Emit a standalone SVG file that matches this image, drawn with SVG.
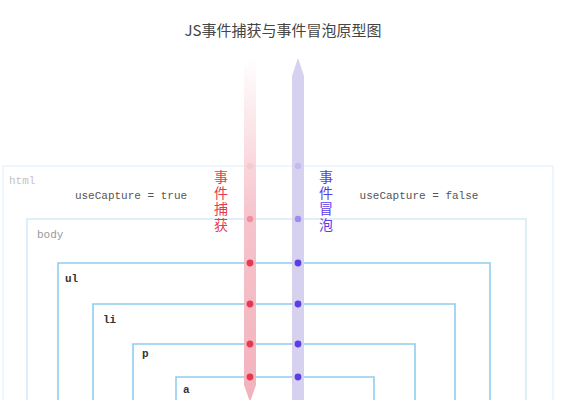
<svg xmlns="http://www.w3.org/2000/svg" width="566" height="400" viewBox="0 0 566 400">
<defs>
<style>
.lbl{font-family:"Liberation Mono","DejaVu Sans Mono",monospace;font-size:11px;fill:#333}
.box{fill:none;stroke:#8fcdf0;stroke-width:1.6}
.cn{font-family:"Noto Sans CJK SC","Noto Sans",sans-serif;font-size:14px;writing-mode:tb;letter-spacing:2px}
.rdot{fill:#e8384f}
.pdot{fill:#5b3ee6}
</style>
<linearGradient id="redg" x1="0" y1="0" x2="0" y2="1">
<stop offset="0" stop-color="#f4b6c0" stop-opacity="0"/>
<stop offset="0.45" stop-color="#f4b6c0" stop-opacity="0.8"/>
<stop offset="1" stop-color="#f2b2bd" stop-opacity="1"/>
</linearGradient>
</defs>
<rect width="566" height="400" fill="#ffffff"/>
<text x="283" y="36" text-anchor="middle" font-family="Noto Sans CJK SC,sans-serif" font-size="15" fill="#444">JS事件捕获与事件冒泡原型图</text>
<g id="html">
<path d="M3 410 V166 H553 V410" fill="none" stroke="#eaf4fb" stroke-width="1.6"/>
<text class="lbl" x="9" y="184" style="fill:#c4c4c4">html</text>
</g>
<g id="body">
<path d="M27 410 V219 H526 V410" fill="none" stroke="#d6ebf8" stroke-width="1.6"/>
<text class="lbl" x="37" y="238" style="fill:#999">body</text>
</g>
<g id="ul">
<path class="box" d="M58 410 V263 H490 V410"/>
<text class="lbl" x="65" y="282" font-weight="bold">ul</text>
</g>
<g id="li">
<path class="box" d="M93 410 V304 H455 V410"/>
<text class="lbl" x="103" y="323" font-weight="bold">li</text>
</g>
<g id="p">
<path class="box" d="M133 410 V344 H415 V410"/>
<text class="lbl" x="142" y="357" font-weight="bold">p</text>
</g>
<g id="a">
<path class="box" d="M176 410 V377 H374 V410"/>
<text class="lbl" x="183" y="393" font-weight="bold" font-size="9">a</text>
</g>
<text class="lbl" x="131" y="199" text-anchor="middle" style="fill:#555">useCapture = true</text>
<text class="lbl" x="419" y="199" text-anchor="middle" style="fill:#555">useCapture = false</text>
<g id="connectors">
<path d="M244 58 H256 V385 L250 402 L244 385 Z" fill="url(#redg)"/>
<path d="M298 58 L304 76 V402 H292 V76 Z" fill="#d6d1ee"/>
<circle cx="250" cy="166" r="3.2" fill="#f6c9d1"/>
<circle cx="250" cy="219" r="3.2" fill="#f08fa0"/>
<circle class="rdot" cx="250" cy="263" r="3.4"/>
<circle class="rdot" cx="250" cy="304" r="3.4"/>
<circle class="rdot" cx="250" cy="344" r="3.4"/>
<circle class="rdot" cx="250" cy="377" r="3.4"/>
<circle cx="298" cy="166" r="3.2" fill="#c4baf2"/>
<circle cx="298" cy="219" r="3.2" fill="#9c8cf0"/>
<circle class="pdot" cx="298" cy="263" r="3.4"/>
<circle class="pdot" cx="298" cy="304" r="3.4"/>
<circle class="pdot" cx="298" cy="344" r="3.4"/>
<circle class="pdot" cx="298" cy="377" r="3.4"/>
</g>
<text id="capture-label" class="cn" x="221" y="170" fill="#e8384f">事件捕获</text>
<text id="bubble-label" class="cn" x="326" y="170" fill="#5b3ee6">事件冒泡</text>
</svg>
